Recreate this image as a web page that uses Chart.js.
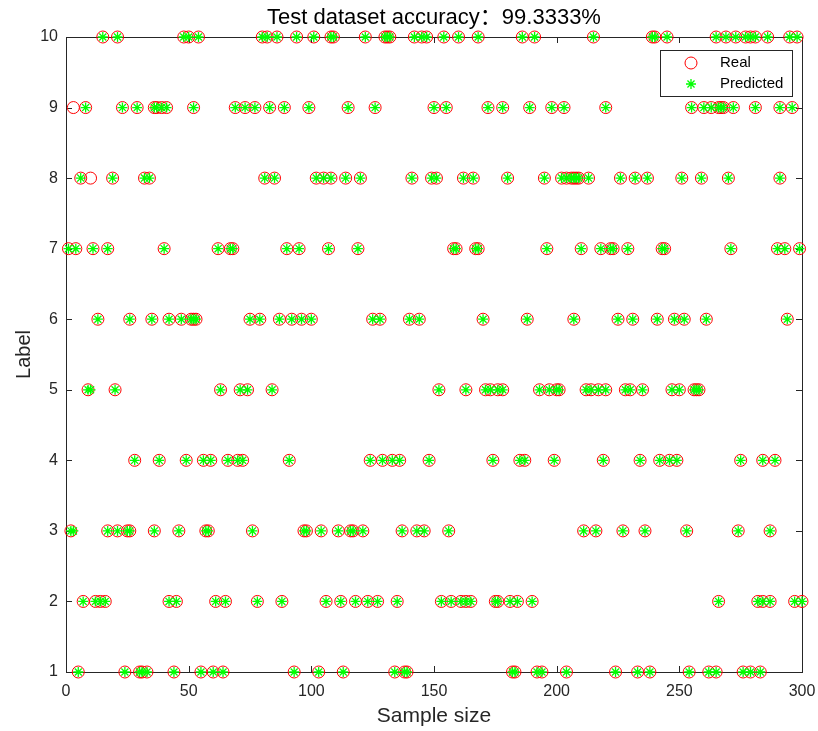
<!DOCTYPE html>
<html><head><meta charset="utf-8">
<script src="https://cdn.jsdelivr.net/npm/chart.js@4.4.1/dist/chart.umd.min.js"></script>
<style>html,body{margin:0;padding:0;background:#fff}</style>
</head><body>
<canvas id="c" width="818" height="731"></canvas>
<script>
// ---- data ----
const titleText = 'Test dataset accuracy：99.3333%';
const xLabel = 'Sample size';
const yLabel = 'Label';
const xTickValues = [0, 50, 100, 150, 200, 250, 300];
const yTickValues = [1, 2, 3, 4, 5, 6, 7, 8, 9, 10];
const seriesNames = ['Real', 'Predicted'];

// sample indices whose real label == predicted label == k
const label1 = [5, 24, 30, 31, 33, 44, 55, 60, 64, 93, 103, 113, 134, 138, 139, 182, 183, 192, 194, 204, 224, 233, 238, 254, 262, 265, 276, 279, 283];
const label2 = [7, 12, 14, 16, 42, 45, 61, 65, 78, 88, 106, 112, 118, 123, 127, 135, 153, 157, 161, 163, 165, 175, 176, 181, 184, 190, 266, 282, 284, 287, 297, 300];
const label3 = [2, 17, 21, 25, 26, 36, 46, 57, 58, 76, 97, 98, 104, 111, 116, 117, 121, 137, 143, 146, 156, 211, 216, 227, 236, 253, 274, 287];
const label4 = [28, 38, 49, 56, 59, 66, 70, 72, 91, 124, 129, 133, 136, 148, 174, 185, 187, 199, 219, 234, 242, 246, 249, 275, 284, 289];
const label5 = [9, 20, 63, 71, 74, 84, 152, 163, 171, 173, 176, 178, 193, 197, 200, 201, 212, 214, 217, 220, 228, 230, 235, 247, 250, 256, 257, 258];
const label6 = [13, 26, 35, 42, 47, 51, 52, 53, 75, 79, 87, 92, 96, 100, 125, 128, 140, 144, 170, 188, 207, 225, 231, 241, 248, 252, 261, 294];
const label7 = [1, 4, 11, 17, 40, 62, 67, 68, 90, 95, 107, 119, 158, 159, 167, 168, 196, 210, 218, 222, 223, 229, 243, 244, 271, 290, 293, 299];
const label8 = [6, 19, 32, 34, 81, 85, 102, 105, 108, 114, 120, 141, 149, 151, 162, 166, 180, 195, 202, 204, 206, 207, 208, 209, 213, 226, 232, 237, 251, 259, 270, 291];
const label9 = [8, 23, 29, 36, 37, 39, 41, 52, 69, 73, 77, 83, 89, 99, 115, 126, 150, 155, 172, 178, 189, 198, 203, 220, 255, 260, 263, 266, 267, 268, 272, 281, 291, 296];
const label10 = [15, 21, 48, 50, 54, 80, 82, 86, 94, 101, 108, 109, 122, 130, 131, 132, 142, 145, 147, 154, 160, 168, 186, 191, 215, 239, 240, 245, 265, 269, 273, 277, 279, 281, 286, 295, 298];

// misclassified samples
const wrongSamples = [3, 10];
const wrongReal = [9, 8];
const wrongPred = [3, 5];

// ---- build points ----
const byLabel = [label1, label2, label3, label4, label5, label6, label7, label8, label9, label10];
const realPts = [], predPts = [];
byLabel.forEach((arr, i) => arr.forEach(s => { realPts.push({x: s, y: i + 1}); predPts.push({x: s, y: i + 1}); }));
wrongSamples.forEach((s, i) => { realPts.push({x: s, y: wrongReal[i]}); predPts.push({x: s, y: wrongPred[i]}); });

const FONT = "'Liberation Sans', Arial, 'Noto Sans CJK SC', sans-serif";
const AXC = '#262626';

const framePlugin = {
  id: 'frame',
  beforeDatasetsDraw(chart) {
    const {ctx, chartArea: a, scales} = chart;
    ctx.save();
    ctx.strokeStyle = AXC; ctx.lineWidth = 1;
    ctx.strokeRect(Math.round(a.left) + 0.5, Math.round(a.top) + 0.5, Math.round(a.right - a.left), Math.round(a.bottom - a.top));
    const tl = 6;
    ctx.beginPath();
    xTickValues.forEach(v => {
      const px = Math.round(scales.x.getPixelForValue(v)) + 0.5;
      ctx.moveTo(px, a.bottom); ctx.lineTo(px, a.bottom - tl);
      ctx.moveTo(px, a.top); ctx.lineTo(px, a.top + tl);
    });
    yTickValues.forEach(v => {
      const py = Math.round(scales.y.getPixelForValue(v)) + 0.5;
      ctx.moveTo(a.left, py); ctx.lineTo(a.left + tl, py);
      ctx.moveTo(a.right, py); ctx.lineTo(a.right - tl, py);
    });
    ctx.stroke();
    ctx.restore();
  },
  afterDraw(chart) {
    const {ctx, chartArea: a} = chart;
    ctx.save();
    // title
    ctx.fillStyle = '#000';
    ctx.font = '22px ' + FONT;
    ctx.textAlign = 'center'; ctx.textBaseline = 'middle';
    ctx.fillText(titleText, (a.left + a.right) / 2, 18);
    // legend
    const bx = 660.5, by = 50.5, bw = 132, bh = 46;
    ctx.fillStyle = '#fff';
    ctx.fillRect(bx, by, bw, bh);
    ctx.strokeStyle = AXC; ctx.lineWidth = 1;
    ctx.strokeRect(bx, by, bw, bh);
    const mx = 691, y1 = 63, y2 = 84;
    ctx.strokeStyle = '#FF0000';
    ctx.beginPath(); ctx.arc(mx, y1, 6, 0, Math.PI * 2); ctx.stroke();
    ctx.strokeStyle = '#00FF00';
    ctx.lineWidth = 1.3;
    ctx.beginPath();
    const r = 5;
    for (let k = 0; k < 4; k++) {
      const ang = k * Math.PI / 4;
      ctx.moveTo(mx - Math.cos(ang) * r, y2 - Math.sin(ang) * r);
      ctx.lineTo(mx + Math.cos(ang) * r, y2 + Math.sin(ang) * r);
    }
    ctx.stroke();
    ctx.fillStyle = '#000';
    ctx.font = '15px ' + FONT;
    ctx.textAlign = 'left';
    ctx.fillText(seriesNames[0], 720, y1);
    ctx.fillText(seriesNames[1], 720, y2);
    ctx.restore();
  }
};

new Chart(document.getElementById('c'), {
  type: 'scatter',
  data: {
    datasets: [
      { label: seriesNames[0], data: realPts, pointStyle: 'circle', pointRadius: 6,
        borderColor: '#FF0000', backgroundColor: 'rgba(0,0,0,0)', borderWidth: 1, order: 2, clip: false },
      { label: seriesNames[1], data: predPts, pointStyle: 'star', pointRadius: 5,
        borderColor: '#00FF00', backgroundColor: '#00FF00', borderWidth: 1.3, order: 1, clip: false }
    ]
  },
  options: {
    responsive: false,
    animation: false,
    events: [],
    layout: { padding: { top: 37, right: 16, left: 0, bottom: 0 } },
    plugins: { legend: { display: false }, title: { display: false }, tooltip: { enabled: false } },
    scales: {
      x: {
        type: 'linear', min: 0, max: 300,
        afterBuildTicks: s => { s.ticks = xTickValues.map(v => ({value: v})); },
        afterFit: s => { s.height = 59; s.paddingLeft = 0; s.paddingRight = 0; },
        grid: { display: false }, border: { display: false },
        ticks: { color: AXC, font: { size: 16, family: FONT }, padding: 2, maxRotation: 0 },
        title: { display: true, text: xLabel, color: AXC, font: { size: 21, family: FONT }, padding: { top: 0, bottom: 2 } }
      },
      y: {
        type: 'linear', min: 1, max: 10,
        afterBuildTicks: s => { s.ticks = yTickValues.map(v => ({value: v})); },
        afterFit: s => { s.width = 66; s.paddingTop = 0; s.paddingBottom = 0; },
        grid: { display: false }, border: { display: false },
        ticks: { color: AXC, font: { size: 16, family: FONT }, padding: 0 },
        title: { display: true, text: yLabel, color: AXC, font: { size: 20, family: FONT }, padding: { top: 12, bottom: 0 } }
      }
    }
  },
  plugins: [framePlugin]
});
</script>
</body></html>
